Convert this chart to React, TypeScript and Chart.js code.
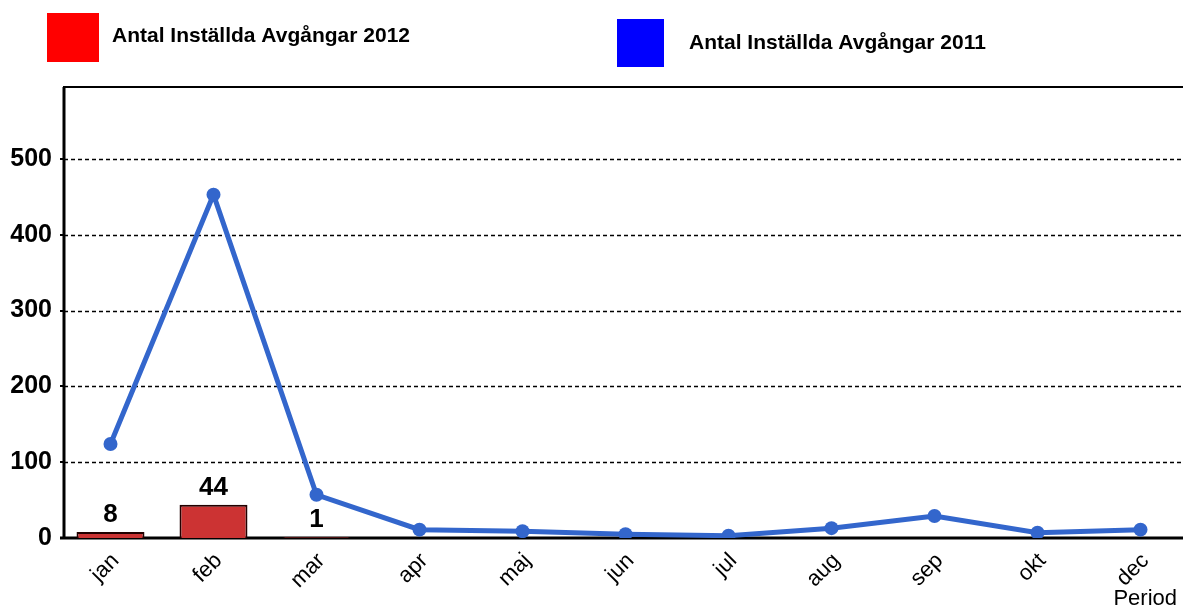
import React, { useEffect, useRef } from "react";
import { Chart, registerables } from "chart.js";

Chart.register(...registerables);

const categories = ["jan", "feb", "mar", "apr", "maj", "jun", "jul", "aug", "sep", "okt", "dec"];
const series2012 = [8, 44, 1, null, null, null, null, null, null, null, null];
const series2011 = [124, 453, 57, 11, 9, 5, 3, 13, 29, 7, 11];
const yTickValues = [0, 100, 200, 300, 400, 500];
const legendLabel2012 = "Antal Inställda Avgångar 2012";
const legendLabel2011 = "Antal Inställda Avgångar 2011";
const xAxisTitle = "Period";

const FONT = "'Liberation Sans', Arial, Helvetica, sans-serif";

const decorPlugin = {
  id: "decor",
  beforeDatasetsDraw(chart: any) {
    const { ctx, chartArea, scales } = chart;
    const y = scales.y;
    const axisX = 64;
    const right = chart.width;
    ctx.save();
    ctx.strokeStyle = "#000";
    // dashed grid
    ctx.lineWidth = 1.5;
    ctx.setLineDash([4, 3]);
    yTickValues.forEach((v) => {
      if (v === 0) return;
      const py = Math.round(y.getPixelForValue(v)) + 0.5;
      ctx.beginPath();
      ctx.moveTo(axisX, py);
      ctx.lineTo(right, py);
      ctx.stroke();
    });
    ctx.setLineDash([]);
    // tick marks
    ctx.lineWidth = 2;
    yTickValues.forEach((v) => {
      const py = Math.round(y.getPixelForValue(v));
      ctx.beginPath();
      ctx.moveTo(axisX - 4, py);
      ctx.lineTo(axisX, py);
      ctx.stroke();
    });
    // top border
    ctx.lineWidth = 2;
    ctx.beginPath();
    ctx.moveTo(axisX - 1, chartArea.top);
    ctx.lineTo(right, chartArea.top);
    ctx.stroke();
    // y axis
    ctx.lineWidth = 3;
    ctx.beginPath();
    ctx.moveTo(axisX, chartArea.top);
    ctx.lineTo(axisX, y.getPixelForValue(0) + 1);
    ctx.stroke();
    // x axis (zero line)
    const y0 = Math.round(y.getPixelForValue(0));
    ctx.lineWidth = 3;
    ctx.beginPath();
    ctx.moveTo(axisX - 4, y0);
    ctx.lineTo(right, y0);
    ctx.stroke();
    ctx.restore();
  },
  afterDatasetsDraw(chart: any) {
    const { ctx } = chart;
    ctx.save();
    // bar value labels
    const meta = chart.getDatasetMeta(0);
    ctx.font = `bold 26px ${FONT}`;
    ctx.fillStyle = "#000";
    ctx.textAlign = "center";
    ctx.textBaseline = "alphabetic";
    meta.data.forEach((el: any, i: number) => {
      const v = series2012[i];
      if (v === null || v === undefined) return;
      ctx.fillText(String(v), el.x, el.y - 10);
    });

    // legend
    const drawLegend = (color: string, bx: number, by: number, bw: number, bh: number, text: string, tx: number, ty: number) => {
      ctx.fillStyle = color;
      ctx.fillRect(bx, by, bw, bh);
      ctx.font = `bold 21px ${FONT}`;
      ctx.fillStyle = "#000";
      ctx.textAlign = "left";
      ctx.textBaseline = "alphabetic";
      ctx.fillText(text, tx, ty);
    };
    drawLegend("#FF0000", 47, 13, 52, 49, legendLabel2012, 112, 42);
    drawLegend("#0000FF", 617, 19, 47, 48, legendLabel2011, 689, 49);

    // axis title
    ctx.font = `22px ${FONT}`;
    ctx.fillStyle = "#000";
    ctx.textAlign = "right";
    ctx.textBaseline = "alphabetic";
    ctx.fillText(xAxisTitle, 1177, 605);
    ctx.restore();
  },
};

export default function App() {
  const canvasRef = useRef<HTMLCanvasElement | null>(null);

  useEffect(() => {
    document.body.style.margin = "0";
    const canvas = canvasRef.current;
    if (!canvas) return;
    const chart = new Chart(canvas, {
      type: "bar",
      data: {
        labels: categories,
        datasets: [
          {
            type: "bar",
            label: legendLabel2012,
            data: series2012 as any,
            backgroundColor: "#CC3333",
            borderColor: "#220000",
            borderWidth: 2,
            barPercentage: 0.66,
            categoryPercentage: 1,
            order: 2,
          },
          {
            type: "line",
            label: legendLabel2011,
            data: series2011,
            borderColor: "#3366CC",
            backgroundColor: "#3366CC",
            borderWidth: 5,
            pointRadius: 7,
            pointBackgroundColor: "#3366CC",
            pointBorderWidth: 0,
            tension: 0,
            order: 1,
          } as any,
        ],
      },
      options: {
        responsive: false,
        animation: false,
        devicePixelRatio: 1,
        layout: { padding: { top: 87, left: 0, right: 28, bottom: 0 } },
        plugins: {
          legend: { display: false },
          tooltip: { enabled: false },
        },
        scales: {
          x: {
            type: "category",
            offset: true,
            grid: { display: false },
            border: { display: false },
            ticks: {
              color: "#000",
              font: { family: FONT, size: 22 },
              minRotation: 45,
              maxRotation: 45,
              padding: 2,
              labelOffset: 5,
            },
            afterFit: (scale: any) => {
              scale.height = 70;
            },
          },
          y: {
            min: 0,
            max: 595,
            grid: { display: false, drawTicks: false },
            border: { display: false },
            ticks: {
              color: "#000",
              font: { family: FONT, size: 25, weight: "bold" },
              padding: 7,
            },
            afterBuildTicks: (scale: any) => {
              scale.ticks = yTickValues.map((v) => ({ value: v }));
            },
            afterFit: (scale: any) => {
              scale.width = 59;
            },
          },
        },
      },
      plugins: [decorPlugin],
    });
    return () => chart.destroy();
  }, []);

  return (
    <div style={{ position: "fixed", left: 0, top: 0, width: 1183, height: 608, overflow: "hidden", background: "#fff" }}>
      <canvas ref={canvasRef} width={1220} height={608} style={{ width: 1220, height: 608, display: "block" }} />
    </div>
  );
}
